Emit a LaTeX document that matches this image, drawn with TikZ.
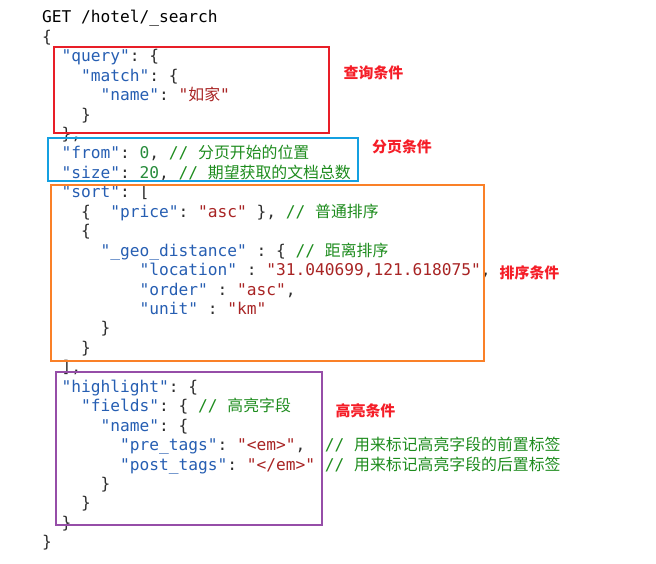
\documentclass[tikz,border=0pt]{standalone}
\usepackage{fontspec}
\setmonofont{DejaVu Sans Mono}
\newfontfamily\cjk[Scale=0.98]{Noto Sans CJK SC}
\definecolor{keyc}{RGB}{38,94,178}
\definecolor{strc}{RGB}{168,36,36}
\definecolor{numc}{RGB}{40,140,60}
\definecolor{cmtc}{RGB}{30,140,30}
\definecolor{punc}{RGB}{45,45,45}
\definecolor{boxred}{RGB}{232,30,40}
\definecolor{boxblue}{RGB}{20,160,225}
\definecolor{boxorange}{RGB}{250,128,40}
\definecolor{boxpurple}{RGB}{150,78,168}
\definecolor{tagred}{RGB}{245,30,40}
\newcommand{\K}[1]{\textcolor{keyc}{"#1"}}
\newcommand{\Str}[1]{\textcolor{strc}{"#1"}}
\newcommand{\Num}[1]{\textcolor{numc}{#1}}
\newcommand{\Cm}[1]{\textcolor{cmtc}{// {\cjk #1}}}
\newcommand{\codeline}[3]{\node[code] (l#1) at ({42+9.74*#2},{3.46+19.44*#1}) {#3};}
\tikzset{
  code/.style={anchor=base west, inner sep=0pt, text=punc,
    font=\ttfamily\fontsize{16.2}{19.4}\selectfont},
  tag/.style={inner sep=0pt, text=tagred, font=\cjk\bfseries\fontsize{15.2}{18}\selectfont},
  frame/.style={line width=2pt}
}
\begin{document}
\begin{tikzpicture}[x=1pt,y=-1pt]
  \useasboundingbox (0,0) rectangle (656,564);
  \codeline{1}{0}{\textcolor{black}{GET /hotel/\_search}}
  \codeline{2}{0}{\{}
  \codeline{3}{2}{\K{query}: \{}
  \codeline{4}{4}{\K{match}: \{}
  \codeline{5}{6}{\K{name}: \Str{{\cjk 如家}}}
  \codeline{6}{4}{\}}
  \codeline{7}{2}{\},}
  \codeline{8}{2}{\K{from}: \Num{0}, \Cm{分页开始的位置}}
  \codeline{9}{2}{\K{size}: \Num{20}, \Cm{期望获取的文档总数}}
  \codeline{10}{2}{\K{sort}: [}
  \codeline{11}{4}{\{\ \ \K{price}: \Str{asc} \}, \Cm{普通排序}}
  \codeline{12}{4}{\{}
  \codeline{13}{6}{\K{\_geo\_distance} : \{ \Cm{距离排序}}
  \codeline{14}{10}{\K{location} : \Str{31.040699,121.618075},}
  \codeline{15}{10}{\K{order} : \Str{asc},}
  \codeline{16}{10}{\K{unit} : \Str{km}}
  \codeline{17}{6}{\}}
  \codeline{18}{4}{\}}
  \codeline{19}{2}{],}
  \codeline{20}{2}{\K{highlight}: \{}
  \codeline{21}{4}{\K{fields}: \{ \Cm{高亮字段}}
  \codeline{22}{6}{\K{name}: \{}
  \codeline{23}{8}{\K{pre\_tags}: \Str{<em>},\ \ \Cm{用来标记高亮字段的前置标签}}
  \codeline{24}{8}{\K{post\_tags}: \Str{</em>} \Cm{用来标记高亮字段的后置标签}}
  \codeline{25}{6}{\}}
  \codeline{26}{4}{\}}
  \codeline{27}{2}{\}}
  \codeline{28}{0}{\}}
  % frames round the parts of the request
  \draw[frame, boxred] (54,47) rectangle (329,133);
  \draw[frame, boxblue] (48,138) rectangle (358,181);
  \draw[frame, boxorange] (50.7,184.7) rectangle (484,360.7);
  \draw[frame, boxpurple] (55.7,371.7) rectangle (322,525);
  \node[tag] (tquery) at (373.5,72.7) {查询条件};
  \node[tag] (tpage) at (402,147) {分页条件};
  \node[tag] (tsort) at (529.5,273) {排序条件};
  \node[tag] (thigh) at (365.5,411) {高亮条件};
\end{tikzpicture}
\end{document}
